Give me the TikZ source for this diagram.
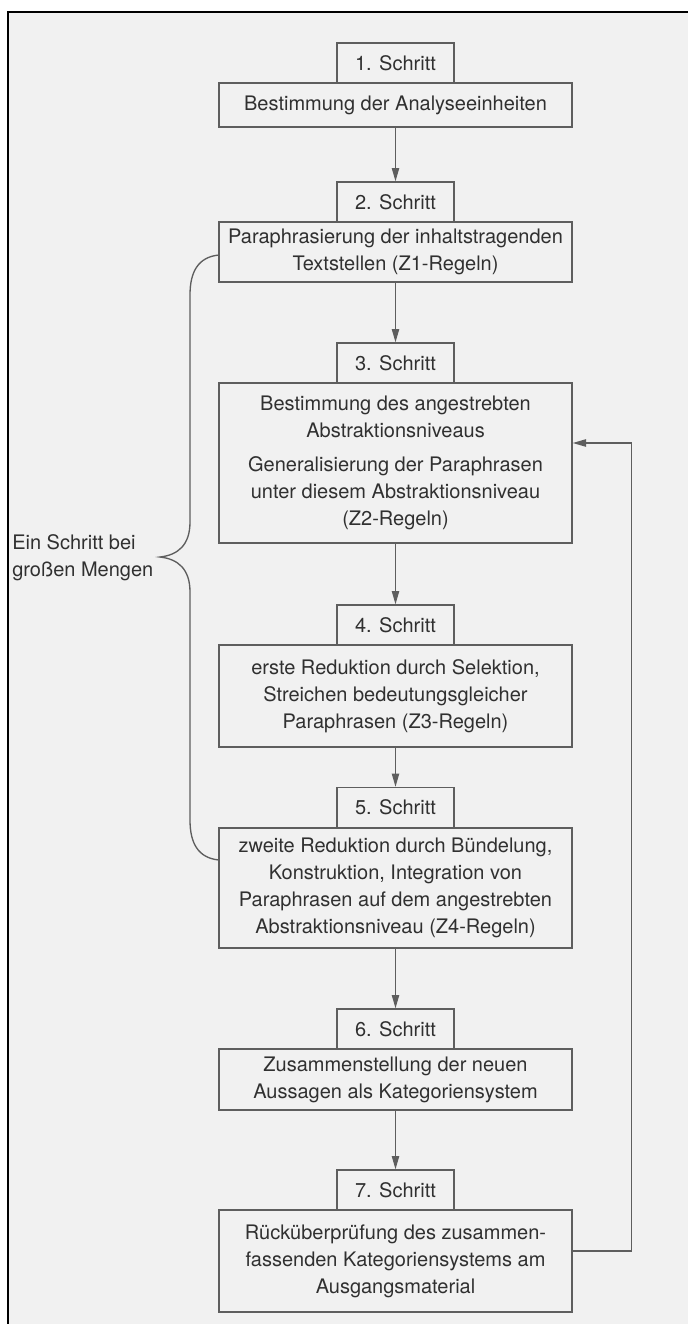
\documentclass[tikz,border=0pt]{standalone}
\usepackage{fontspec}
\setmainfont{TeX Gyre Heros}
\usetikzlibrary{arrows.meta}
\definecolor{pagebg}{HTML}{F1F1F1}
\definecolor{ink}{HTML}{303030}
\definecolor{linec}{HTML}{5E5E5E}
\begin{document}
\begin{tikzpicture}[x=0.75pt,y=-0.75pt,
  every node/.style={font=\fontsize{15pt}{20.2pt}\selectfont, text=ink},
  stepbox/.style={draw=linec, line width=1pt, minimum width=87.75pt, minimum height=30pt, inner sep=0pt},
  taskbox/.style={draw=linec, line width=1pt, minimum width=264.75pt, inner sep=0pt, align=center},
  arr/.style={draw=linec, line width=1pt, -{Triangle[length=10pt,width=5.5pt]}},
  bracel/.style={draw=linec, line width=1pt}
]
\useasboundingbox (0,0) rectangle (688,1324);
\fill[white] (0,0) rectangle (688,1324);
\fill[pagebg] (8,11.5) rectangle (688,1324);
\draw[line width=1.5pt, black] (8,1324) -- (8,11.5) -- (688,11.5);

% task boxes
\node[taskbox, minimum height=33pt] (b1) at (395.5,105) {Bestimmung der Analyseeinheiten};
\node[taskbox, minimum height=45pt] (b2) at (395.5,252) {Paraphrasierung der inhaltstragenden\\Textstellen (Z1-Regeln)};
\node[taskbox, minimum height=120pt] (b3) at (395.5,463) {Bestimmung des angestrebten\\Abstraktionsniveaus\\[5pt]Generalisierung der Paraphrasen\\unter diesem Abstraktionsniveau\\(Z2-Regeln)};
\node[taskbox, minimum height=76.5pt] (b4) at (395.5,696) {erste Reduktion durch Selektion,\\Streichen bedeutungsgleicher\\Paraphrasen (Z3-Regeln)};
\node[taskbox, minimum height=90pt] (b5) at (395.5,888) {zweite Reduktion durch Bündelung,\\Konstruktion, Integration von\\Paraphrasen auf dem angestrebten\\Abstraktionsniveau (Z4-Regeln)};
\node[taskbox, minimum height=45.75pt] (b6) at (395.5,1079.5) {Zusammenstellung der neuen\\Aussagen als Kategoriensystem};
\node[taskbox, minimum height=76.5pt] (b7) at (395.5,1261) {Rücküberprüfung des zusammen-\\fassenden Kategoriensystems am\\Ausgangsmaterial};

% step labels
\node[stepbox] (s1) at (395.5,63) {1. Schritt};
\node[stepbox] (s2) at (395.5,202) {2. Schritt};
\node[stepbox] (s3) at (395.5,363) {3. Schritt};
\node[stepbox] (s4) at (395.5,625) {4. Schritt};
\node[stepbox] (s5) at (395.5,807.5) {5. Schritt};
\node[stepbox] (s6) at (395.5,1029) {6. Schritt};
\node[stepbox] (s7) at (395.5,1190) {7. Schritt};

% arrows
\draw[arr] (b1.south) -- (s2.north);
\draw[arr] (b2.south) -- (s3.north);
\draw[arr] (b3.south) -- (s4.north);
\draw[arr] (b4.south) -- (s5.north);
\draw[arr] (b5.south) -- (s6.north);
\draw[arr] (b6.south) -- (s7.north);

% feedback loop
\draw[arr] ([yshift=7.5pt]b7.east) -- ++(59,0) |- ([yshift=15pt]b3.east);

% brace
\draw[bracel] (219,255) .. controls (198,257) and (190,272) .. (190,295)
  -- (190,522) .. controls (190,545) and (178,555) .. (160,557)
  .. controls (178,559) and (190,569) .. (190,592)
  -- (190,820) .. controls (190,843) and (198,858) .. (219,860);

\node[anchor=west, align=left, inner sep=0pt] (lbl) at (12,558) {Ein Schritt bei\\großen Mengen};
\end{tikzpicture}
\end{document}
